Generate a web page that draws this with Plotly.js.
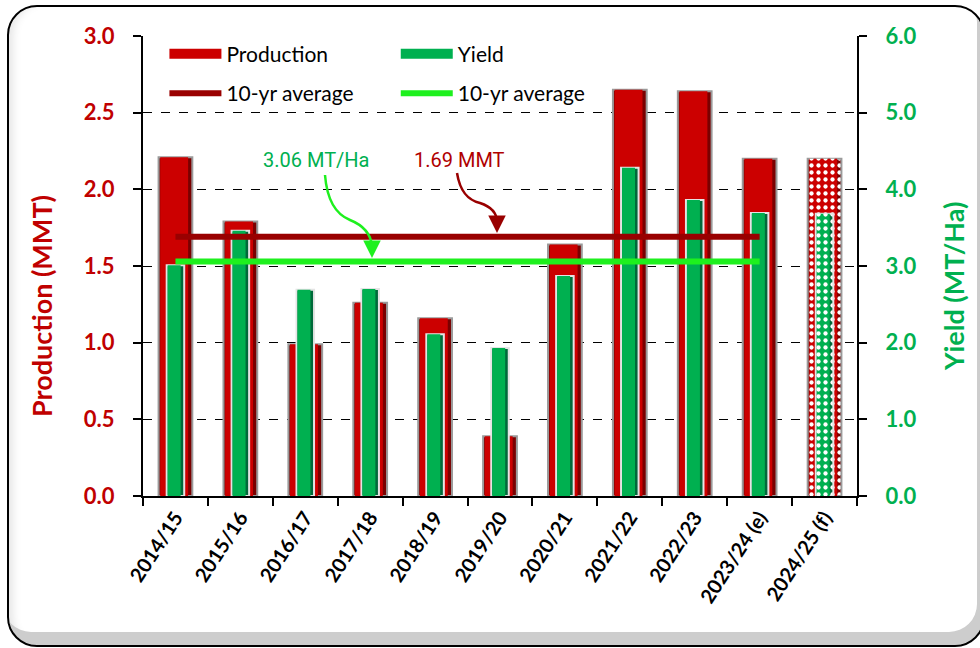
<!DOCTYPE html>
<html>
<head>
<meta charset="utf-8">
<script src="https://cdn.plot.ly/plotly-3.0.1.min.js"></script>
<style>
  html, body { margin:0; padding:0; background:#ffffff; }
  #frame { position:absolute; left:7px; top:5px; width:974px; height:638px;
           border:2px solid #000; border-radius:30px;
           box-shadow: inset -6px -13px 0 #cdcdcd, inset 10px 0 8px -6px #e6e6e6; }
  #chart { position:absolute; left:0; top:0; width:980px; height:648px; }
</style>
</head>
<body>
<div id="frame"></div>
<div id="chart"></div>
<script>
// ---- data ----
const categories = ['2014/15','2015/16','2016/17','2017/18','2018/19','2019/20','2020/21','2021/22','2022/23','2023/24 (e)','2024/25 (f)'];
const production = [2.21, 1.79, 0.99, 1.26, 1.16, 0.39, 1.64, 2.65, 2.64, 2.20, 2.20];
const yieldVals  = [3.01, 3.46, 2.69, 2.70, 2.11, 1.93, 2.87, 4.28, 3.86, 3.69, 3.68];
const avgProduction = 1.69;
const avgYield = 3.06;
const avgLabelProd = '1.69 MMT';
const avgLabelYield = '3.06 MT/Ha';
const yTitleLeft = 'Production (MMT)';
const yTitleRight = 'Yield (MT/Ha)';
const avgSpan = [categories[0], categories[9]];

// ---- style ----
const RED = '#CC0000', RED_DK = '#7A0000', GREEN = '#00B050', GREEN_DK = '#00693A';
const AVG_RED = '#990000', AVG_GREEN = '#1EF01E';
const FONT = 'Lato, "Open Sans", sans-serif';
const NARROW = 'Roboto, "Liberation Sans", Arial, sans-serif';
const isF = categories.map(c => c.indexOf('(f)') >= 0);
const patt = isF.map(f => f ? '.' : '');
function pattern(bg) {
  return {shape:patt, fgcolor:'#ffffff', bgcolor:isF.map(() => bg), size:7, solidity:0.3, fillmode:'replace'};
}

const traces = [
  // production bars (base + face for bevel)
  {type:'bar', x:categories, y:production, yaxis:'y', width:0.52, offset:-0.26,
   marker:{color:RED_DK, line:{color:'#9a9a9a', width:2}, pattern:pattern(RED_DK)},
   showlegend:false, hoverinfo:'skip'},
  {type:'bar', x:categories, y:production, yaxis:'y', width:0.43, offset:-0.235,
   marker:{color:RED, line:{width:0}, pattern:pattern(RED)},
   showlegend:false},
  // yield bars
  {type:'bar', x:categories, y:yieldVals, yaxis:'y2', width:0.27, offset:-0.135,
   marker:{color:GREEN_DK, line:{color:'#e4e4e4', width:2}, pattern:pattern(GREEN_DK)},
   showlegend:false, hoverinfo:'skip'},
  {type:'bar', x:categories, y:yieldVals, yaxis:'y2', width:0.20, offset:-0.12,
   marker:{color:GREEN, line:{width:0}, pattern:pattern(GREEN)},
   showlegend:false},
  // average lines
  {type:'scatter', mode:'lines', x:avgSpan, y:[avgYield, avgYield], yaxis:'y2',
   line:{color:AVG_GREEN, width:6}, name:'10-yr average', legend:'legend2', legendgroup:'g2', legendrank:2},
  {type:'scatter', mode:'lines', x:avgSpan, y:[avgProduction, avgProduction], yaxis:'y3',
   line:{color:AVG_RED, width:6}, name:'10-yr average', legend:'legend', legendgroup:'r2', legendrank:2},
  // legend swatches for bars
  {type:'scatter', mode:'lines', x:[null], y:[null], name:'Production',
   line:{color:RED, width:13}, legend:'legend', legendgroup:'r1', legendrank:1, hoverinfo:'skip'},
  {type:'scatter', mode:'lines', x:[null], y:[null], name:'Yield',
   line:{color:GREEN, width:13}, legend:'legend2', legendgroup:'g1', legendrank:1, hoverinfo:'skip'}
];

// helpers for decorative arrow paths / label placement (pixel -> paper)
const L = 143, R = 857, T = 36, B = 496;
const px = v => ((v - L) / (R - L)).toFixed(4);
const py = v => ((B - v) / (B - T)).toFixed(4);
function curve(pts) {
  const p = pts.map(q => px(q[0]) + ',' + py(q[1]));
  return 'M ' + p[0] + ' C ' + p[1] + ' ' + p[2] + ' ' + p[3] + ' C ' + p[4] + ' ' + p[5] + ' ' + p[6];
}

const legendCommon = {font:{family:FONT, size:21, color:'#000'}, bgcolor:'rgba(0,0,0,0)',
  itemwidth:52, tracegroupgap:9, xanchor:'left', yanchor:'top', traceorder:'grouped', orientation:'v'};

const layout = {
  width:980, height:648,
  margin:{l:143, r:123, t:36, b:152},
  paper_bgcolor:'rgba(0,0,0,0)', plot_bgcolor:'rgba(0,0,0,0)',
  barmode:'overlay',
  font:{family:FONT},
  xaxis:{type:'category', tickangle:-57, tickson:'boundaries', ticks:'outside', ticklen:8,
         tickcolor:'#000', tickwidth:2, showline:true, linecolor:'#000', linewidth:2,
         tickfont:{family:FONT, size:20, color:'#000', weight:'bold'}, automargin:false,
         showgrid:false, range:[-0.5, 10.5]},
  yaxis:{range:[0,3], dtick:0.5, tickformat:'.1f', ticks:'outside', ticklen:8, tickwidth:2,
         tickcolor:'#000', showline:true, linecolor:'#000', linewidth:2,
         showgrid:true, gridcolor:'#000', griddash:'dash', gridwidth:1, zeroline:false,
         ticklabelstandoff:14, automargin:false,
         tickfont:{family:FONT, size:22, color:'#C00000', weight:'bold'}},
  yaxis2:{range:[0,6], dtick:1, tickformat:'.1f', overlaying:'y', side:'right', ticks:'outside',
          ticklen:8, tickwidth:2, tickcolor:'#000', showline:true, linecolor:'#000', linewidth:2,
          showgrid:false, zeroline:false, ticklabelstandoff:14, automargin:false,
          tickfont:{family:FONT, size:22, color:GREEN, weight:'bold'}},
  yaxis3:{range:[0,3], overlaying:'y', visible:false},
  legend:Object.assign({x:0.03, y:1.005}, legendCommon),
  legend2:Object.assign({x:0.354, y:1.005}, legendCommon),
  shapes:[
    {type:'path', xref:'paper', yref:'paper', line:{color:AVG_GREEN, width:2.5},
     path: curve([[325,175],[327,200],[335,214],[350,220],[365,226],[371,236],[372,246]])},
    {type:'path', xref:'paper', yref:'paper', line:{color:AVG_RED, width:2.5},
     path: curve([[457,173],[460,192],[468,200],[480,203],[492,207],[497,214],[497,222]])}
  ],
  annotations:[
    {xref:'paper', yref:'paper', x:px(316), y:py(160), xanchor:'center', yanchor:'middle',
     text:avgLabelYield, showarrow:false, font:{family:NARROW, size:20, color:GREEN}},
    {xref:'paper', yref:'paper', x:px(459), y:py(160), xanchor:'center', yanchor:'middle',
     text:avgLabelProd, showarrow:false, font:{family:NARROW, size:20, color:'#B00000'}},
    {xref:'paper', yref:'paper', x:px(372), y:py(258), ax:0, ay:-14, text:'', showarrow:true,
     arrowhead:2, arrowsize:1.4, arrowwidth:2.5, arrowcolor:AVG_GREEN},
    {xref:'paper', yref:'paper', x:px(497), y:py(233), ax:0, ay:-12, text:'', showarrow:true,
     arrowhead:2, arrowsize:1.4, arrowwidth:2.5, arrowcolor:AVG_RED},
    // axis titles
    {xref:'paper', yref:'paper', x:px(41), y:py(306), xanchor:'center', yanchor:'middle',
     textangle:-90, text:yTitleLeft, showarrow:false,
     font:{family:FONT, size:27, color:'#C00000', weight:'bold'}},
    {xref:'paper', yref:'paper', x:px(953), y:py(287), xanchor:'center', yanchor:'middle',
     textangle:-90, text:yTitleRight, showarrow:false,
     font:{family:FONT, size:27, color:GREEN, weight:'bold'}}
  ]
};

Plotly.newPlot('chart', traces, layout, {displayModeBar:false, staticPlot:true});
</script>
</body>
</html>
